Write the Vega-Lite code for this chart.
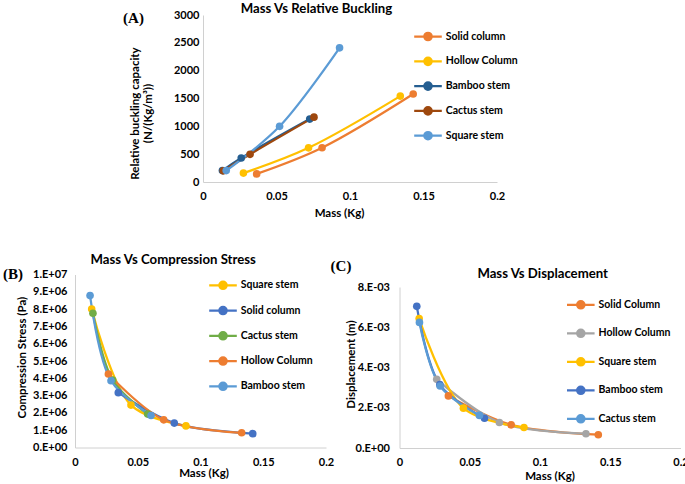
{
  "$schema": "https://vega.github.io/schema/vega-lite/v6.json",
  "background": "white",
  "padding": {"left": 2, "top": 1, "right": 0, "bottom": 0},
  "datasets": {
    "a": [
      {"series": "Solid column", "mass": 0.0365, "value": 145},
      {"series": "Solid column", "mass": 0.081, "value": 615},
      {"series": "Solid column", "mass": 0.143, "value": 1580},
      {"series": "Hollow Column", "mass": 0.0275, "value": 160},
      {"series": "Hollow Column", "mass": 0.0718, "value": 614},
      {"series": "Hollow Column", "mass": 0.1342, "value": 1543},
      {"series": "Bamboo stem", "mass": 0.0132, "value": 205},
      {"series": "Bamboo stem", "mass": 0.026, "value": 432},
      {"series": "Bamboo stem", "mass": 0.0726, "value": 1130},
      {"series": "Cactus stem", "mass": 0.0138, "value": 200},
      {"series": "Cactus stem", "mass": 0.032, "value": 497},
      {"series": "Cactus stem", "mass": 0.0755, "value": 1165},
      {"series": "Square stem", "mass": 0.0158, "value": 205},
      {"series": "Square stem", "mass": 0.0521, "value": 1000},
      {"series": "Square stem", "mass": 0.0929, "value": 2410}
    ],
    "b": [
      {"series": "Square stem", "mass": 0.0133, "value": 8000000},
      {"series": "Square stem", "mass": 0.0446, "value": 2450000},
      {"series": "Square stem", "mass": 0.0884, "value": 1250000},
      {"series": "Solid column", "mass": 0.0345, "value": 3170000},
      {"series": "Solid column", "mass": 0.0791, "value": 1410000},
      {"series": "Solid column", "mass": 0.1416, "value": 800000},
      {"series": "Cactus stem", "mass": 0.0143, "value": 7760000},
      {"series": "Cactus stem", "mass": 0.03, "value": 3900000},
      {"series": "Cactus stem", "mass": 0.0579, "value": 1930000},
      {"series": "Hollow Column", "mass": 0.0266, "value": 4250000},
      {"series": "Hollow Column", "mass": 0.0707, "value": 1600000},
      {"series": "Hollow Column", "mass": 0.1328, "value": 850000},
      {"series": "Bamboo stem", "mass": 0.012, "value": 8780000},
      {"series": "Bamboo stem", "mass": 0.0287, "value": 3860000},
      {"series": "Bamboo stem", "mass": 0.0606, "value": 1850000}
    ],
    "c": [
      {"series": "Solid Column", "mass": 0.0348, "value": 0.00259},
      {"series": "Solid Column", "mass": 0.0795, "value": 0.00115},
      {"series": "Solid Column", "mass": 0.1415, "value": 0.00066},
      {"series": "Hollow Column", "mass": 0.0265, "value": 0.00341},
      {"series": "Hollow Column", "mass": 0.0711, "value": 0.00127},
      {"series": "Hollow Column", "mass": 0.1327, "value": 0.00071},
      {"series": "Square stem", "mass": 0.014, "value": 0.00643},
      {"series": "Square stem", "mass": 0.0455, "value": 0.00198},
      {"series": "Square stem", "mass": 0.0886, "value": 0.00102},
      {"series": "Bamboo stem", "mass": 0.0123, "value": 0.00704},
      {"series": "Bamboo stem", "mass": 0.0287, "value": 0.00315},
      {"series": "Bamboo stem", "mass": 0.0605, "value": 0.00148},
      {"series": "Cactus stem", "mass": 0.0142, "value": 0.00624},
      {"series": "Cactus stem", "mass": 0.0289, "value": 0.00308},
      {"series": "Cactus stem", "mass": 0.0569, "value": 0.00162}
    ]
  },
  "concat": [
    {
      "concat": [
        {"data": {"values": []}, "mark": "point", "width": 46.5, "height": 1},
        {
          "name": "pA",
          "width": 294,
          "height": 167,
          "data": {"name": "a"},
          "layer": [
            {
              "mark": {"type": "line", "interpolate": "catmull-rom", "strokeWidth": 2.25},
              "encoding": {
                "x": {"field": "mass", "type": "quantitative", "scale": {"domain": [0, 0.2], "nice": false},
                  "axis": {"orient": "bottom", "title": "Mass (Kg)", "values": [0, 0.05, 0.1, 0.15, 0.2], "format": "~g", "labelPadding": 8.5, "titleX": 136, "titleY": 31, "titleBaseline": "middle", "titleAlign": "center"}},
                "y": {"field": "value", "type": "quantitative", "scale": {"domain": [0, 3000], "nice": false},
                  "axis": {"title": ["Relative buckling capacity", "(N/(Kg/m³))"], "values": [0, 500, 1000, 1500, 2000, 2500, 3000], "format": "d", "labelPadding": 4, "titleX": -68, "titleY": 98, "titleBaseline": "middle", "titleAlign": "center", "titleAngle": -90}},
                "color": {"field": "series", "type": "nominal",
                  "scale": {"domain": ["Solid column", "Hollow Column", "Bamboo stem", "Cactus stem", "Square stem"], "range": ["#ED7D31", "#FFC000", "#255E91", "#9E480E", "#5B9BD5"]},
                  "legend": {"orient": "none", "legendX": 213.5, "legendY": 10, "rowPadding": 4.8,
                    "encode": {"symbols": {"update": {"fill": {"scale": "pA_color", "field": "value"}, "stroke": {"scale": "pA_color", "field": "value"}, "opacity": {"value": 1}}}}}}
              }
            },
            {
              "mark": {"type": "point", "filled": true, "size": 58, "opacity": 1},
              "encoding": {
                "x": {"field": "mass", "type": "quantitative",
                  "axis": {"orient": "top", "title": "Mass Vs Relative Buckling", "labels": false, "domain": false, "titleX": 113, "titleY": -7, "titleBaseline": "middle", "titleAlign": "center", "titleFontSize": 13.2}},
                "y": {"field": "value", "type": "quantitative",
                  "axis": {"orient": "right", "title": "(A)", "labels": false, "domain": false, "titleX": -364, "titleY": 2, "titleAngle": 0, "titleBaseline": "middle", "titleAlign": "center", "titleFont": "Liberation Serif", "titleFontSize": 15}},
                "color": {"field": "series", "type": "nominal"}
              }
            }
          ],
          "resolve": {"axis": {"x": "independent", "y": "independent"}}
        }
      ],
      "columns": 2,
      "spacing": 0,
      "align": "none",
      "resolve": {"scale": {"color": "independent"}, "legend": {"color": "independent"}}
    },
    {
      "concat": [
        {
          "name": "pB",
          "width": 251,
          "height": 173,
          "data": {"name": "b"},
          "layer": [
            {
              "mark": {"type": "line", "interpolate": "catmull-rom", "strokeWidth": 2.25},
              "encoding": {
                "x": {"field": "mass", "type": "quantitative", "scale": {"domain": [0, 0.2], "nice": false},
                  "axis": {"orient": "bottom", "title": "Mass (Kg)", "values": [0, 0.05, 0.1, 0.15, 0.2], "format": "~g", "labelPadding": 8.5, "titleX": 128.5, "titleY": 26.3, "titleBaseline": "middle", "titleAlign": "center"}},
                "y": {"field": "value", "type": "quantitative", "scale": {"domain": [0, 10000000], "nice": false},
                  "axis": {"title": "Compression Stress (Pa)", "values": [0, 1000000, 2000000, 3000000, 4000000, 5000000, 6000000, 7000000, 8000000, 9000000, 10000000],
                    "labelExpr": "datum.value == 0 ? '0.E+00' : replace(format(datum.value, '.0e'), 'e+', '.E+0')", "labelPadding": 8, "titleX": -52.3, "titleY": 82.7, "titleBaseline": "middle", "titleAlign": "center", "titleAngle": -90}},
                "color": {"field": "series", "type": "nominal",
                  "scale": {"domain": ["Square stem", "Solid column", "Cactus stem", "Hollow Column", "Bamboo stem"], "range": ["#FFC000", "#4472C4", "#70AD47", "#ED7D31", "#5B9BD5"]},
                  "legend": {"orient": "none", "legendX": 136.5, "legendY": -0.7, "rowPadding": 5.25,
                    "encode": {"symbols": {"update": {"fill": {"scale": "pB_color", "field": "value"}, "stroke": {"scale": "pB_color", "field": "value"}, "opacity": {"value": 1}}}}}}
              }
            },
            {
              "mark": {"type": "point", "filled": true, "size": 58, "opacity": 1},
              "encoding": {
                "x": {"field": "mass", "type": "quantitative",
                  "axis": {"orient": "top", "title": "Mass Vs Compression Stress", "labels": false, "domain": false, "titleX": 97.7, "titleY": -15, "titleBaseline": "middle", "titleAlign": "center", "titleFontSize": 13.2}},
                "y": {"field": "value", "type": "quantitative",
                  "axis": {"orient": "right", "title": "(B)", "labels": false, "domain": false, "titleX": -313.5, "titleY": -1.5, "titleAngle": 0, "titleBaseline": "middle", "titleAlign": "center", "titleFont": "Liberation Serif", "titleFontSize": 15}},
                "color": {"field": "series", "type": "nominal"}
              }
            }
          ],
          "resolve": {"axis": {"x": "independent", "y": "independent"}}
        },
        {
          "concat": [
            {"data": {"values": []}, "mark": "point", "width": 1, "height": 1},
            {
              "name": "pC",
              "width": 281,
              "height": 161,
              "data": {"name": "c"},
              "layer": [
                {
                  "mark": {"type": "line", "interpolate": "catmull-rom", "strokeWidth": 2.25},
                  "encoding": {
                    "x": {"field": "mass", "type": "quantitative", "scale": {"domain": [0, 0.2], "nice": false},
                      "axis": {"orient": "bottom", "title": "Mass (Kg)", "values": [0, 0.05, 0.1, 0.15, 0.2], "format": "~g", "labelPadding": 8.5, "titleX": 150, "titleY": 28.7, "titleBaseline": "middle", "titleAlign": "center"}},
                    "y": {"field": "value", "type": "quantitative", "scale": {"domain": [0, 0.008], "nice": false},
                      "axis": {"title": "Displacement (m)", "values": [0, 0.002, 0.004, 0.006, 0.008],
                        "labelExpr": "datum.value == 0 ? '0.E+00' : replace(format(datum.value, '.0e'), 'e-', '.E-0')", "labelPadding": 10, "titleX": -48, "titleY": 77, "titleBaseline": "middle", "titleAlign": "center", "titleAngle": -90}},
                    "color": {"field": "series", "type": "nominal",
                      "scale": {"domain": ["Solid Column", "Hollow Column", "Square stem", "Bamboo stem", "Cactus stem"], "range": ["#ED7D31", "#A5A5A5", "#FFC000", "#4472C4", "#5B9BD5"]},
                      "legend": {"orient": "none", "legendX": 169.8, "legendY": 6.3, "rowPadding": 8.5,
                        "encode": {"symbols": {"update": {"fill": {"scale": "pC_color", "field": "value"}, "stroke": {"scale": "pC_color", "field": "value"}, "opacity": {"value": 1}}}}}}
                  }
                },
                {
                  "mark": {"type": "point", "filled": true, "size": 58, "opacity": 1},
                  "encoding": {
                    "x": {"field": "mass", "type": "quantitative",
                      "axis": {"orient": "top", "title": "Mass Vs Displacement", "labels": false, "domain": false, "titleX": 142.7, "titleY": -14, "titleBaseline": "middle", "titleAlign": "center", "titleFontSize": 13.2}},
                    "y": {"field": "value", "type": "quantitative",
                      "axis": {"orient": "right", "title": "(C)", "labels": false, "domain": false, "titleX": -340, "titleY": -22, "titleAngle": 0, "titleBaseline": "middle", "titleAlign": "center", "titleFont": "Liberation Serif", "titleFontSize": 15}},
                    "color": {"field": "series", "type": "nominal"}
                  }
                }
              ],
              "resolve": {"axis": {"x": "independent", "y": "independent"}}
            }
          ],
          "columns": 1,
          "spacing": -17.5,
          "align": "none",
          "resolve": {"scale": {"color": "independent"}, "legend": {"color": "independent"}}
        }
      ],
      "columns": 2,
      "spacing": -4.5,
      "align": "none",
      "resolve": {"scale": {"color": "independent"}, "legend": {"color": "independent"}}
    }
  ],
  "columns": 1,
  "spacing": 33.5,
  "align": "none",
  "resolve": {"scale": {"color": "independent"}, "legend": {"color": "independent"}},
  "config": {
    "view": {"stroke": null},
    "font": "Lato",
    "axis": {
      "labelFont": "Lato", "labelFontWeight": "bold", "labelFontSize": 11, "labelColor": "#000000",
      "titleFont": "Lato", "titleFontWeight": "bold", "titleFontSize": 11.5, "titleColor": "#000000",
      "domainColor": "#d0d0d0", "domainWidth": 1, "ticks": false, "tickSize": 0, "grid": false,
      "labelOverlap": false, "labelFlush": false
    },
    "legend": {
      "title": null, "padding": 0, "offset": 0,
      "symbolType": "M-1.38,0H1.38M-0.37,0A0.37,0.37,0,1,0,0.37,0A0.37,0.37,0,1,0,-0.37,0",
      "symbolSize": 400, "symbolStrokeWidth": 2.25, "symbolOpacity": 1,
      "labelFont": "Lato", "labelFontWeight": "bold", "labelFontSize": 10.5, "labelColor": "#000000",
      "labelOffset": 6.2
    }
  }
}
